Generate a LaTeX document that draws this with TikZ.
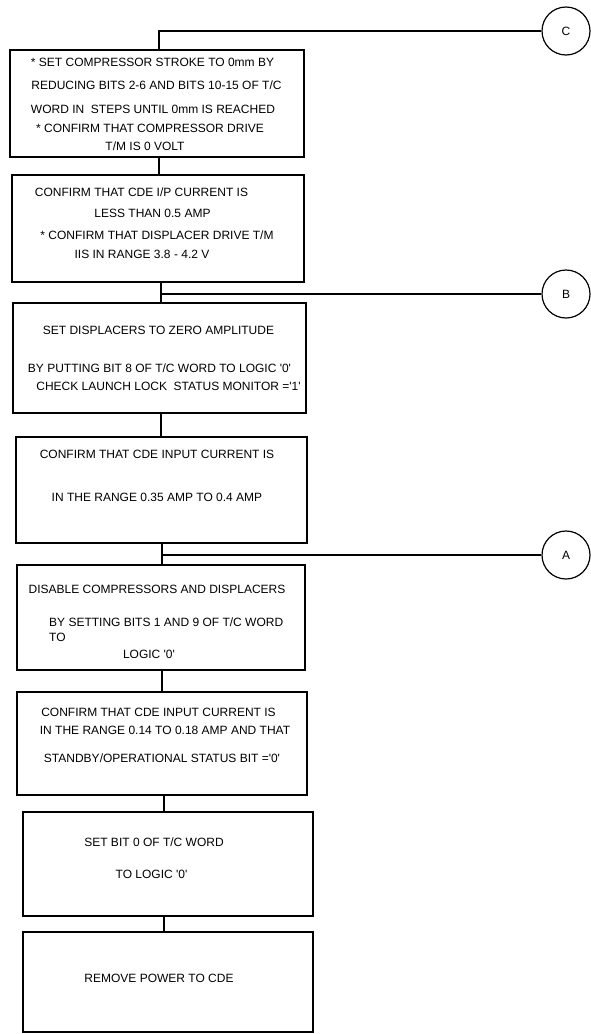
\documentclass[tikz,border=0pt]{standalone}
\usepackage{fontspec}
\setmainfont{Liberation Sans}

\begin{document}
\begin{tikzpicture}[x=1pt, y=-1pt,
    stepbox/.style={draw, line width=1.2pt, inner sep=0pt},
    txt/.style={inner sep=0pt, font=\fontsize{12}{14}\selectfont},
    link/.style={line width=1.6pt},
    joint/.style={draw, circle, line width=1.2pt, minimum size=48pt, inner sep=0pt, font=\fontsize{12}{14}\selectfont}]
    \useasboundingbox (0,0) rectangle (590,1034);

    % step boxes
    \node[stepbox, minimum width=294pt, minimum height=107pt] (b1) at (157,103.5) {};
    \node[stepbox, minimum width=292pt, minimum height=107pt] (b2) at (158,228.5) {};
    \node[stepbox, minimum width=293pt, minimum height=110pt] (b3) at (159.5,358) {};
    \node[stepbox, minimum width=291pt, minimum height=106pt] (b4) at (161.5,490) {};
    \node[stepbox, minimum width=288pt, minimum height=105pt] (b5) at (161,617.5) {};
    \node[stepbox, minimum width=290pt, minimum height=103pt] (b6) at (162,743.5) {};
    \node[stepbox, minimum width=290pt, minimum height=104pt] (b7) at (168,864) {};
    \node[stepbox, minimum width=290pt, minimum height=100pt] (b8) at (168,982) {};

    % texts
    \node[txt] (t1a) at (152.5,62) {* SET COMPRESSOR STROKE TO 0mm BY};
    \node[txt] (t1b) at (156.5,85) {REDUCING BITS 2-6 AND BITS 10-15 OF T/C};
    \node[txt] (t1c) at (153,109) {WORD IN\ \ STEPS UNTIL 0mm IS REACHED};
    \node[txt] (t1d) at (150,128) {* CONFIRM THAT COMPRESSOR DRIVE};
    \node[txt] (t1e) at (145,146) {T/M IS 0 VOLT};

    \node[txt] (t2a) at (141.5,192) {CONFIRM THAT CDE I/P CURRENT IS};
    \node[txt] (t2b) at (152.5,213) {LESS THAN 0.5 AMP};
    \node[txt] (t2c) at (157,235) {* CONFIRM THAT DISPLACER DRIVE T/M};
    \node[txt] (t2d) at (142,254) {IIS IN RANGE 3.8 - 4.2 V};

    \node[txt] (t3a) at (158.5,330) {SET DISPLACERS TO ZERO AMPLITUDE};
    \node[txt] (t3b) at (159.5,368) {BY PUTTING BIT 8 OF T/C WORD TO LOGIC \textquotesingle0\textquotesingle};
    \node[txt] (t3c) at (168.5,386) {CHECK LAUNCH LOCK\ \ STATUS MONITOR =\textquotesingle1\textquotesingle};

    \node[txt] (t4a) at (157,454) {CONFIRM THAT CDE INPUT CURRENT IS};
    \node[txt] (t4b) at (157,497) {IN THE RANGE 0.35 AMP TO 0.4 AMP};

    \node[txt] (t5a) at (157,589) {DISABLE COMPRESSORS AND DISPLACERS};
    \node[txt, anchor=west] (t5b) at (49,622) {BY SETTING BITS 1 AND 9 OF T/C WORD};
    \node[txt, anchor=west] (t5c) at (49,637) {TO};
    \node[txt] (t5d) at (149,654) {LOGIC \textquotesingle0\textquotesingle};

    \node[txt] (t6a) at (158.5,712) {CONFIRM THAT CDE INPUT CURRENT IS};
    \node[txt] (t6b) at (165,730) {IN THE RANGE 0.14 TO 0.18 AMP AND THAT};
    \node[txt] (t6c) at (162,758) {STANDBY/OPERATIONAL STATUS BIT =\textquotesingle0\textquotesingle};

    \node[txt] (t7a) at (154,842) {SET BIT 0 OF T/C WORD};
    \node[txt] (t7b) at (151.5,874) {TO LOGIC \textquotesingle0\textquotesingle};

    \node[txt] (t8a) at (159,978) {REMOVE POWER TO CDE};

    % off-page connectors
    \node[joint] (cC) at (566,31) {C};
    \node[joint] (cB) at (566,294) {B};
    \node[joint] (cA) at (566,555) {A};
    \coordinate (jC) at (159,31);
    \coordinate (jB) at (161,294);
    \coordinate (jA) at (162,555);
    \coordinate (jD) at (164,0);

    \draw[link] (cC) -- (jC) -- (b1.north -| jC);
    \draw[link] (b1.south -| jC) -- (b2.north -| jC);
    \draw[link] (b2.south -| jB) -- (b3.north -| jB);
    \draw[link] (cB) -- (jB);
    \draw[link] (b3.south -| jB) -- (b4.north -| jB);
    \draw[link] (b4.south -| jA) -- (b5.north -| jA);
    \draw[link] (cA) -- (jA);
    \draw[link] (b5.south -| jA) -- (b6.north -| jA);
    \draw[link] (b6.south -| jD) -- (b7.north -| jD);
    \draw[link] (b7.south -| jD) -- (b8.north -| jD);
\end{tikzpicture}
\end{document}
